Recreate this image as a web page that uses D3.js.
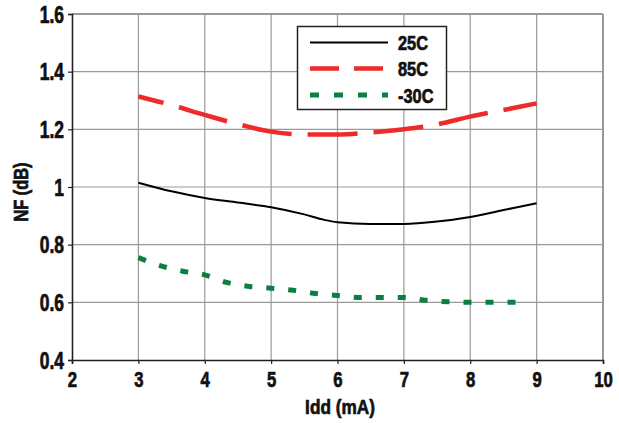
<!DOCTYPE html>
<html>
<head>
<meta charset="utf-8">
<script src="https://cdn.jsdelivr.net/npm/d3@7"></script>
<style>
  html, body { margin: 0; padding: 0; background: #fff; }
  svg text { font-family: "Liberation Sans", Arial, sans-serif; font-weight: bold; stroke: #111; stroke-width: 0.7px; }
</style>
</head>
<body>
<svg id="chart" width="619" height="423"></svg>
<script>
const xTicks = [2, 3, 4, 5, 6, 7, 8, 9, 10];
const yTicks = [0.4, 0.6, 0.8, 1.0, 1.2, 1.4, 1.6];
const yTickLabels = ["0.4", "0.6", "0.8", "1", "1.2", "1.4", "1.6"];

const idd25 = [3, 3.5, 4, 4.5, 5, 5.5, 5.8, 6, 6.5, 7, 7.5, 8, 8.5, 9];
const nf25  = [1.015, 0.985, 0.962, 0.946, 0.930, 0.905, 0.886, 0.878, 0.872, 0.872, 0.880, 0.896, 0.920, 0.944];

const idd85 = [3, 3.5, 4, 4.5, 5, 5.5, 6, 6.5, 7, 7.5, 8, 8.5, 9];
const nf85  = [1.314, 1.284, 1.250, 1.218, 1.192, 1.182, 1.182, 1.189, 1.200, 1.217, 1.244, 1.267, 1.290];

const iddM30 = [3, 3.33, 3.67, 4, 4.33, 4.67, 5, 5.33, 5.67, 6, 6.33, 6.67, 7, 7.33, 7.67, 8, 8.33, 8.8];
const nfM30  = [0.755, 0.727, 0.708, 0.695, 0.669, 0.655, 0.649, 0.642, 0.631, 0.624, 0.617, 0.617, 0.617, 0.607, 0.602, 0.600, 0.600, 0.600];

const seriesNames = ["25C", "85C", "-30C"];

const svg = d3.select("#chart");
const m = { left: 72, right: 16, top: 14, bottom: 63 };
const W = 619, H = 423;
const SX = 0.76; // horizontal condense factor for the condensed bold face

const x = d3.scaleLinear().domain([2, 10]).range([m.left, W - m.right]);
const y = d3.scaleLinear().domain([0.4, 1.6]).range([H - m.bottom, m.top]);

// grid
const grid = svg.append("g");
grid.selectAll("line.v").data(xTicks.slice(1)).enter().append("line")
  .attr("x1", d => x(d)).attr("x2", d => x(d))
  .attr("y1", y(1.6)).attr("y2", y(0.4))
  .attr("stroke", "#9a9a9a").attr("stroke-width", d => d === 10 ? 2 : 1.2);
grid.selectAll("line.h").data(yTicks.slice(1)).enter().append("line")
  .attr("x1", x(2)).attr("x2", x(10))
  .attr("y1", d => y(d)).attr("y2", d => y(d))
  .attr("stroke", "#9a9a9a").attr("stroke-width", d => d === 1.6 ? 2 : 1.2);

// axes
const xAxis = svg.append("g").attr("transform", `translate(0,${y(0.4)})`)
  .call(d3.axisBottom(x).tickValues(xTicks).tickFormat(d3.format("d")).tickSize(4).tickPadding(6));
const yAxis = svg.append("g").attr("transform", `translate(${x(2)},0)`)
  .call(d3.axisLeft(y).tickValues(yTicks).tickFormat((d, i) => yTickLabels[i]).tickSize(4).tickPadding(4));
[xAxis, yAxis].forEach(a => {
  a.select(".domain").attr("stroke", "#222").attr("stroke-width", 1.6);
  a.selectAll(".tick line").attr("stroke", "#222").attr("stroke-width", 1.2);
  a.selectAll(".tick text").attr("fill", "#111").style("font-size", "23px")
    .attr("transform", `scale(${SX},1)`);
});
xAxis.selectAll(".tick text").attr("dy", "0.76em").style("font-size", "22px");
yAxis.selectAll(".tick text").attr("dy", "0.36em").attr("x", -8 / SX);

// lines
const line = d3.line().x(d => x(d[0])).y(d => y(d[1])).curve(d3.curveMonotoneX);
svg.append("path").datum(d3.zip(idd85, nf85)).attr("d", line)
  .attr("fill", "none").attr("stroke", "#ee2a2a").attr("stroke-width", 4.5)
  .attr("stroke-dasharray", "50,16").attr("stroke-dashoffset", 24);
svg.append("path").datum(d3.zip(iddM30, nfM30)).attr("d", line)
  .attr("fill", "none").attr("stroke", "#0a8040").attr("stroke-width", 5)
  .attr("stroke-dasharray", "8,14");
svg.append("path").datum(d3.zip(idd25, nf25)).attr("d", line)
  .attr("fill", "none").attr("stroke", "#000").attr("stroke-width", 2);

// legend
const lg = svg.append("g");
lg.append("rect").attr("x", 297.5).attr("y", 26.5).attr("width", 149).attr("height", 83)
  .attr("fill", "#fff").attr("stroke", "#222").attr("stroke-width", 1.5);
const lgStyles = [
  { stroke: "#000", w: 2, dash: null, y: 42.5 },
  { stroke: "#ee2a2a", w: 4.5, dash: "29,15", y: 68.5 },
  { stroke: "#0a8040", w: 5, dash: "9,15", y: 95 }
];
lgStyles.forEach((s, i) => {
  const l = lg.append("line").attr("x1", 310).attr("x2", 388).attr("y1", s.y).attr("y2", s.y)
    .attr("stroke", s.stroke).attr("stroke-width", s.w);
  if (s.dash) l.attr("stroke-dasharray", s.dash);
  lg.append("text").attr("transform", `translate(398,${s.y}) scale(0.78,1)`).attr("dy", "0.36em")
    .style("font-size", "21px").attr("fill", "#111").text(seriesNames[i]);
});

// axis titles
svg.append("text").attr("transform", "translate(340,414) scale(0.82,1)")
  .attr("text-anchor", "middle").style("font-size", "21px").attr("fill", "#111").text("Idd (mA)");
svg.append("text").attr("transform", "translate(28,192) rotate(-90) scale(0.82,1)")
  .attr("text-anchor", "middle").style("font-size", "20px").attr("fill", "#111").text("NF (dB)");
</script>
</body>
</html>
